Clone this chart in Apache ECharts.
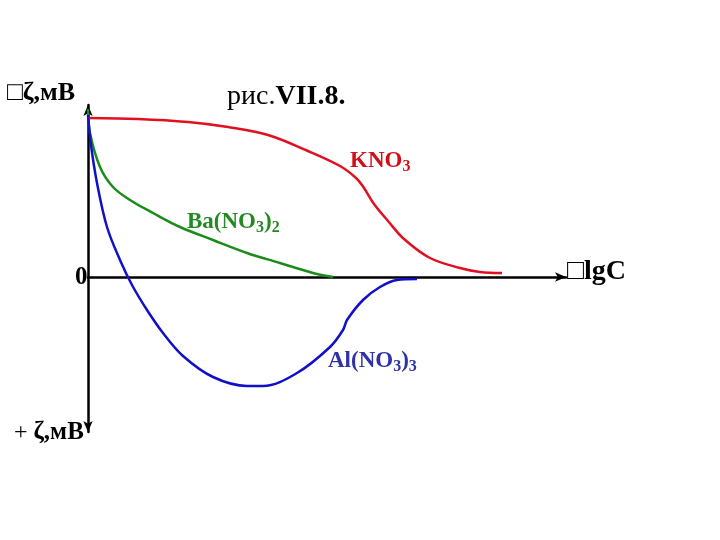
<!DOCTYPE html>
<html>
<head>
<meta charset="utf-8">
<script src="https://cdn.jsdelivr.net/npm/echarts@6/dist/echarts.min.js"></script>
<style>html,body{margin:0;padding:0;background:#fff}#c{width:720px;height:540px}</style>
</head>
<body>
<div id="c"></div>
<script>
// Data (x: lg C in arbitrary units, y: zeta potential in arbitrary units)
var kno3 = [[0,15.9],[5,15.8],[10,15.5],[14,15.0],[18,14.2],[22,12.6],[25.2,11.1],[26.8,9.9],[27.6,8.9],[28.6,7.3],[30,5.6],[31.6,3.8],[34.2,1.9],[37.2,0.9],[39.2,0.5],[41.4,0.4]];
var bano3 = [[0,16.8],[0.2,14.4],[1.2,11.0],[2.5,9.0],[4.2,7.7],[6.5,6.4],[9.2,5.0],[12.5,3.7],[15.9,2.4],[19.2,1.4],[22.5,0.4],[24.5,0]];
var alno3 = [[0,16.2],[0.3,13.2],[0.9,9.4],[1.9,5.0],[3.2,1.7],[4.4,-0.8],[5.9,-3.3],[7.5,-5.6],[9.5,-7.9],[12.5,-10.0],[15.9,-10.9],[17.5,-10.9],[20.9,-9.6],[24.2,-7.0],[25.5,-5.3],[25.9,-4.3],[27.5,-2.3],[29.2,-1.0],[30.9,-0.3],[32.9,-0.2]];

var chart = echarts.init(document.getElementById('c'));
var serif = '"Liberation Serif", "Times New Roman", serif';
function lineSeries(name, data, color) {
  return {name: name, type: 'line', data: data, showSymbol: false, smooth: 0.35,
    lineStyle: {color: color, width: 2.5}, z: 3};
}
function rich(color, fs, sfs){
  return {m:{fontSize:fs,fontWeight:'bold',fontFamily:serif,fill:color},
          s:{fontSize:sfs,fontWeight:'bold',fontFamily:serif,fill:color,padding:[12,0,0,0]}};
}
function label(x, y, text, richObj){
  return {type:'text', x:x, y:y, style:{text:text, rich:richObj, verticalAlign:'middle', align:'left'}};
}
chart.setOption({
  animation: false,
  backgroundColor: '#fff',
  grid: {left: 88, right: 154, top: 105, bottom: 108},
  xAxis: {type: 'value', min: 0, max: 47.8,
    axisLine: {onZero: true, symbol: ['none','arrow'], symbolSize: [7,11], lineStyle: {color: '#000', width: 2.5}},
    axisTick: {show: false}, axisLabel: {show: false}, splitLine: {show: false}},
  yAxis: {type: 'value', min: -15.5, max: 17.2,
    axisLine: {show: true, onZero: false, symbol: ['arrow','arrow'], symbolSize: [7,11], lineStyle: {color: '#000', width: 2.5}},
    axisTick: {show: false}, axisLabel: {show: false}, splitLine: {show: false}},
  series: [
    lineSeries('KNO3', kno3, '#e01020'),
    lineSeries('Ba(NO3)2', bano3, '#1a8c1a'),
    lineSeries('Al(NO3)3', alno3, '#1010c8')
  ],
  graphic: [
    label(7, 93, '{m|□ζ,мВ}', {m:{fontSize:26,fontWeight:'bold',fontFamily:serif,fill:'#000'}}),
    label(227, 97, '{a|рис.}{b|VII.8.}', {a:{fontSize:28,fontFamily:serif,fill:'#000'},b:{fontSize:28,fontWeight:'bold',fontFamily:serif,fill:'#000'}}),
    label(350, 161, '{m|KNO}{s|3}', rich('#d01018', 23, 16)),
    label(187, 222, '{m|Ba(NO}{s|3}{m|)}{s|2}', rich('#238a23', 23, 16)),
    label(328, 361, '{m|Al(NO}{s|3}{m|)}{s|3}', rich('#3030a8', 23, 16)),
    label(75, 278, '{m|0}', {m:{fontSize:25,fontWeight:'bold',fontFamily:serif,fill:'#000'}}),
    label(567, 272, '{m|□lgC}', {m:{fontSize:28,fontWeight:'bold',fontFamily:serif,fill:'#000'}}),
    label(14, 433, '{a|+ }{b|ζ,мВ}', {a:{fontSize:24,fontFamily:serif,fill:'#000'},b:{fontSize:25,fontWeight:'bold',fontFamily:serif,fill:'#000'}})
  ]
});
</script>
</body>
</html>
